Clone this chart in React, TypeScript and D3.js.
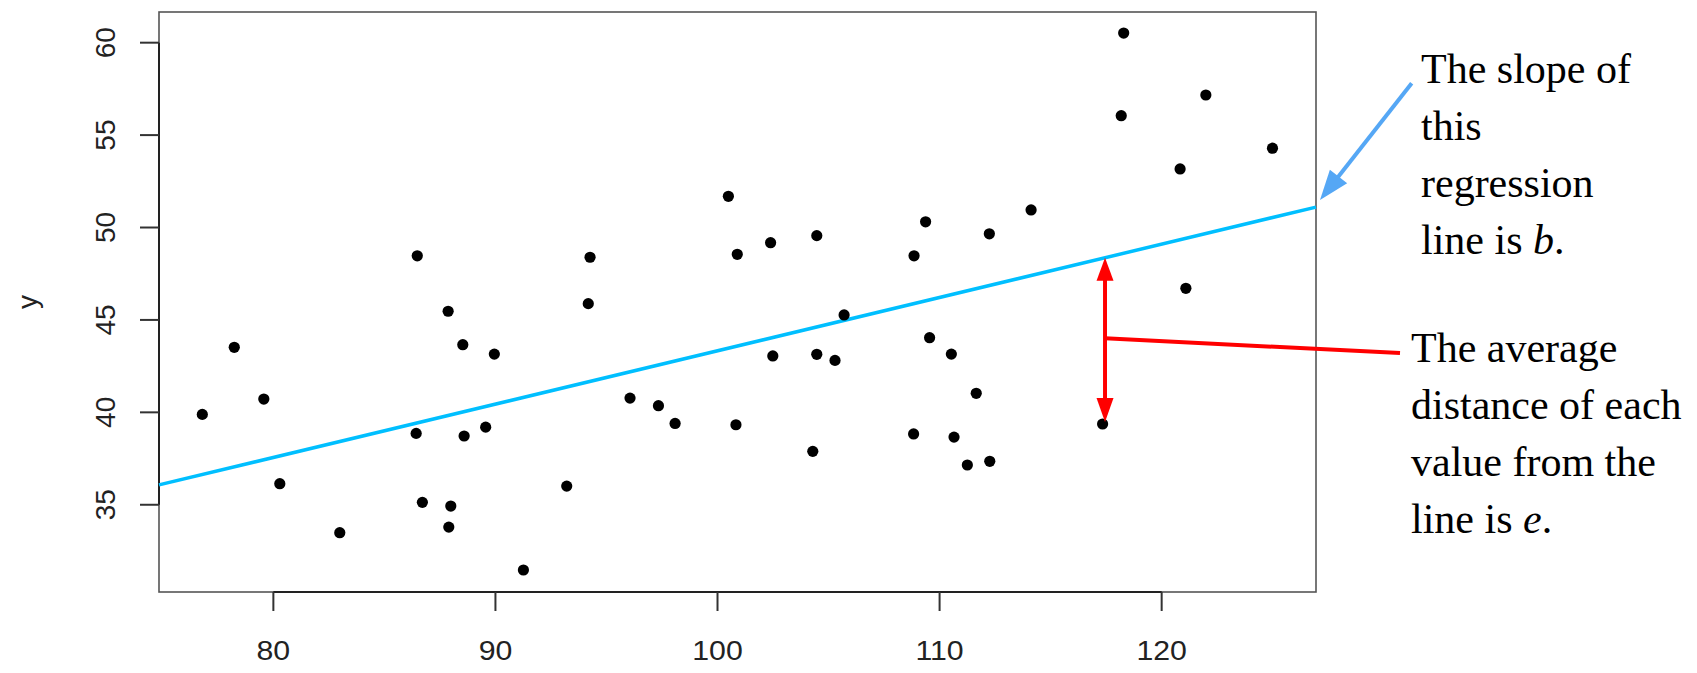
import React from "react";
import * as d3 from "d3";

const xValues = [76.8, 78.24, 79.57, 80.29, 82.99, 86.48, 86.43, 86.71, 87.87, 87.99, 87.9, 88.53, 88.59, 89.56, 89.95, 91.26, 93.21, 94.18, 94.26, 96.06, 97.34, 98.09, 100.49, 100.89, 100.83, 102.39, 102.49, 104.47, 104.47, 104.29, 105.29, 105.7, 108.85, 108.83, 109.37, 109.55, 110.53, 110.65, 111.25, 111.65, 112.24, 112.26, 114.12, 117.34, 118.29, 118.18, 120.83, 121.09, 121.99, 124.99];
const yValues = [39.89, 43.52, 40.72, 36.14, 33.49, 48.47, 38.86, 35.13, 45.47, 34.93, 33.79, 43.66, 38.72, 39.2, 43.15, 31.47, 36.01, 45.88, 48.39, 40.77, 40.36, 39.4, 51.69, 48.55, 39.33, 49.18, 43.05, 49.56, 43.14, 37.89, 42.81, 45.27, 48.47, 38.83, 50.31, 44.04, 43.15, 38.66, 37.15, 41.03, 49.66, 37.35, 50.95, 39.37, 60.52, 56.05, 53.17, 46.71, 57.17, 54.29];
const xTicks = [80, 90, 100, 110, 120];
const yTicks = [35, 40, 45, 50, 55, 60];
const xDomain = [74.85, 126.95];
const yDomain = [30.28, 61.66];
const lineIntercept = 14.48;
const lineSlope = 0.2885;
const residualX = 117.45;
const residualPointIndex = 43;
const slopeText = ["The slope of", "this", "regression", "line is "];
const slopeVar = "b";
const errorText = ["The average", "distance of each", "value from the", "line is "];
const errorVar = "e";

const W = 1697, H = 673;
const L = 159, R = 1316, T = 12, B = 592;

function arrowHead(tip: [number, number], from: [number, number], len: number, half: number) {
  const dx = tip[0] - from[0], dy = tip[1] - from[1];
  const d = Math.hypot(dx, dy);
  const ux = dx / d, uy = dy / d;
  const bx = tip[0] - ux * len, by = tip[1] - uy * len;
  const px = -uy, py = ux;
  return `M${tip[0]},${tip[1]}L${bx + px * half},${by + py * half}L${bx - px * half},${by - py * half}Z`;
}

export default function App() {
  const x = d3.scaleLinear().domain(xDomain).range([L, R]);
  const y = d3.scaleLinear().domain(yDomain).range([B, T]);
  const fLine = (v: number) => lineIntercept + lineSlope * v;
  const linePath = d3.line<number>().x((d) => x(d)).y((d) => y(fLine(d)))(xDomain) || "";

  const ax = x(residualX);
  const topY = y(fLine(residualX));
  const botY = y(yValues[residualPointIndex]) - 2;
  const midY = (topY + botY) / 2 - 1.5;

  const lineEnd: [number, number] = [x(xDomain[1]), y(fLine(xDomain[1]))];
  const blueTip: [number, number] = [lineEnd[0] + 4, lineEnd[1] - 7];
  const blueFrom: [number, number] = [1411.7, 83.3];

  const tickFont = "'Liberation Sans', Arial, Helvetica, sans-serif";
  const serif = "'Liberation Serif', 'Times New Roman', serif";

  return (
    <svg width={W} height={H} style={{ position: "absolute", left: 0, top: 0, background: "#fff" }}>
      <rect x={L} y={T} width={R - L} height={B - T} fill="none" stroke="#555" strokeWidth={1.6} />
      <line x1={x(xTicks[0])} x2={x(xTicks[xTicks.length - 1])} y1={B} y2={B} stroke="#222" strokeWidth={2} />
      <line x1={L} x2={L} y1={y(yTicks[0])} y2={y(yTicks[yTicks.length - 1])} stroke="#222" strokeWidth={2} />
      {xTicks.map((t) => (
        <g key={"x" + t}>
          <line x1={x(t)} x2={x(t)} y1={B} y2={B + 19} stroke="#333" strokeWidth={2} />
          <text transform={`translate(${x(t)},660) scale(1.08,1)`} textAnchor="middle" fontFamily={tickFont} fontSize={28} fill="#222">{t}</text>
        </g>
      ))}
      {yTicks.map((t) => (
        <g key={"y" + t}>
          <line x1={L - 19} x2={L} y1={y(t)} y2={y(t)} stroke="#333" strokeWidth={2} />
          <text transform={`translate(115,${y(t)}) rotate(-90)`} textAnchor="middle" fontFamily={tickFont} fontSize={28} fill="#222">{t}</text>
        </g>
      ))}
      <text transform={`translate(37,${(T + B) / 2}) rotate(-90)`} textAnchor="middle" fontFamily={tickFont} fontSize={28} fill="#222">y</text>

      <path d={linePath} stroke="#00BFFF" strokeWidth={3.5} fill="none" />

      {xValues.map((xv, i) => (
        <circle key={i} cx={x(xv)} cy={y(yValues[i])} r={5.6} fill="#000" />
      ))}

      <line x1={ax} x2={ax} y1={topY + 20} y2={botY - 20} stroke="#FF0000" strokeWidth={4} />
      <path d={arrowHead([ax, topY], [ax, topY + 50], 23, 8.5)} fill="#FF0000" />
      <path d={arrowHead([ax, botY], [ax, botY - 50], 24, 8.5)} fill="#FF0000" />
      <line x1={ax} x2={1400} y1={midY} y2={353} stroke="#FF0000" strokeWidth={4} />

      <line x1={blueFrom[0]} y1={blueFrom[1]} x2={blueTip[0] + (blueFrom[0] - blueTip[0]) * 0.15} y2={blueTip[1] + (blueFrom[1] - blueTip[1]) * 0.15} stroke="#55A7F5" strokeWidth={4} />
      <path d={arrowHead(blueTip, blueFrom, 30, 11)} fill="#55A7F5" />

      {slopeText.map((s, i) => (
        <text key={"s" + i} x={1421} y={83 + i * 57} fontFamily={serif} fontSize={42} fill="#000">
          {s}
          {i === slopeText.length - 1 ? (
            <>
              <tspan fontStyle="italic">{slopeVar}</tspan>.
            </>
          ) : null}
        </text>
      ))}
      {errorText.map((s, i) => (
        <text key={"e" + i} x={1411} y={361.7 + i * 57} fontFamily={serif} fontSize={42} fill="#000">
          {s}
          {i === errorText.length - 1 ? (
            <>
              <tspan fontStyle="italic">{errorVar}</tspan>.
            </>
          ) : null}
        </text>
      ))}
    </svg>
  );
}
